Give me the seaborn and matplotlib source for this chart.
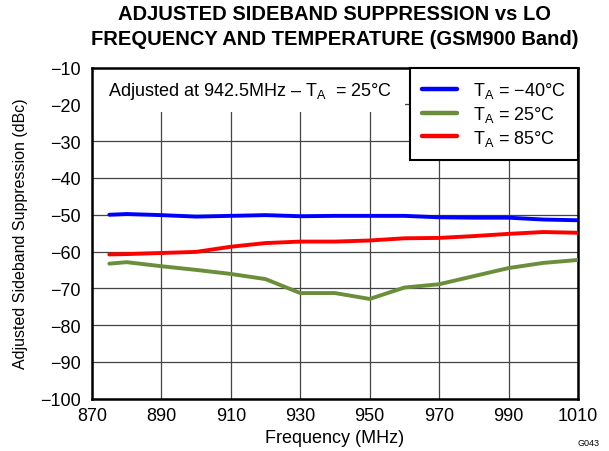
import matplotlib
matplotlib.use("Agg")
import matplotlib.pyplot as plt
import pandas as pd
import seaborn as sns
from matplotlib.patches import Rectangle

freq = [875, 880, 890, 900, 910, 920, 930, 940, 950, 960, 970, 980, 990, 1000, 1010]
sup_m40 = [-50.0, -49.8, -50.1, -50.5, -50.3, -50.1, -50.4, -50.3, -50.3, -50.3,
           -50.7, -50.8, -50.8, -51.3, -51.5]
sup_25 = [-63.3, -62.9, -64.0, -65.0, -66.1, -67.5, -71.3, -71.3, -72.9, -69.8,
          -68.9, -66.7, -64.5, -63.1, -62.3]
sup_85 = [-60.8, -60.7, -60.4, -60.1, -58.7, -57.7, -57.3, -57.3, -57.0, -56.4,
          -56.3, -55.8, -55.2, -54.7, -54.9]
labels = ["T$_\\mathregular{A}$ = \u221240\u00b0C",
          "T$_\\mathregular{A}$ = 25\u00b0C",
          "T$_\\mathregular{A}$ = 85\u00b0C"]
colors = ["#0000ff", "#6b8e3a", "#ff0000"]
x_ticks = [870, 890, 910, 930, 950, 970, 990, 1010]
y_ticks = list(range(-100, 0, 10))

df = pd.DataFrame({
    "freq": freq * 3,
    "sup": sup_m40 + sup_25 + sup_85,
    "temp": [labels[0]] * len(freq) + [labels[1]] * len(freq) + [labels[2]] * len(freq),
})

sns.set_style("white", {"text.color": "black", "axes.labelcolor": "black",
                        "xtick.color": "black", "ytick.color": "black"})
plt.rcParams["font.family"] = ["Liberation Sans", "DejaVu Sans"]
plt.rcParams["mathtext.fontset"] = "custom"
plt.rcParams["mathtext.rm"] = "Liberation Sans"

fig = plt.figure(figsize=(6.09, 4.52), dpi=100)
ax = fig.add_axes([0.151, 0.116, 0.798, 0.732])

sns.lineplot(data=df, x="freq", y="sup", hue="temp", hue_order=labels,
             palette=colors, linewidth=2.8, ax=ax, zorder=3)

ax.set_xlim(870, 1010)
ax.set_ylim(-100, -10)
ax.set_xticks(x_ticks)
ax.set_yticks(y_ticks)
ax.grid(True, color="#444444", linewidth=0.9)
ax.tick_params(axis="both", labelsize=13, length=0, pad=6)
ax.tick_params(axis="y", pad=8)
for s in ax.spines.values():
    s.set_color("black")
    s.set_linewidth(1.8)

# white area behind the note at the top left
ax.add_patch(Rectangle((0, 0.866), 0.644, 0.134, transform=ax.transAxes,
                       facecolor="white", edgecolor="none", zorder=2))
ax.text(0.033, 0.93, "Adjusted at 942.5MHz \u2013 T$_\\mathregular{A}$  = 25\u00b0C",
        transform=ax.transAxes, fontsize=13, va="center", ha="left", zorder=4)

leg = ax.legend(loc="upper right", fontsize=13, frameon=True, fancybox=False,
                edgecolor="black", framealpha=1, borderaxespad=0, handlelength=1.95,
                labelspacing=0.2, borderpad=0.7, handletextpad=0.85)
leg.get_frame().set_linewidth(1.5)
leg.set_zorder(5)
for h in leg.get_lines():
    h.set_linewidth(3.2)

ax.set_xlabel("Frequency (MHz)", fontsize=13, labelpad=4)
ax.set_ylabel("Adjusted Sideband Suppression (dBc)", fontsize=11.5, labelpad=9)
fig.suptitle("ADJUSTED SIDEBAND SUPPRESSION vs LO\nFREQUENCY AND TEMPERATURE (GSM900 Band)",
             fontsize=14.5, fontweight="bold", x=0.55, y=0.988, linespacing=1.4)
fig.text(0.985, 0.008, "G043", fontsize=6.5, ha="right", va="bottom")

fig.savefig("out.png", dpi=100)
